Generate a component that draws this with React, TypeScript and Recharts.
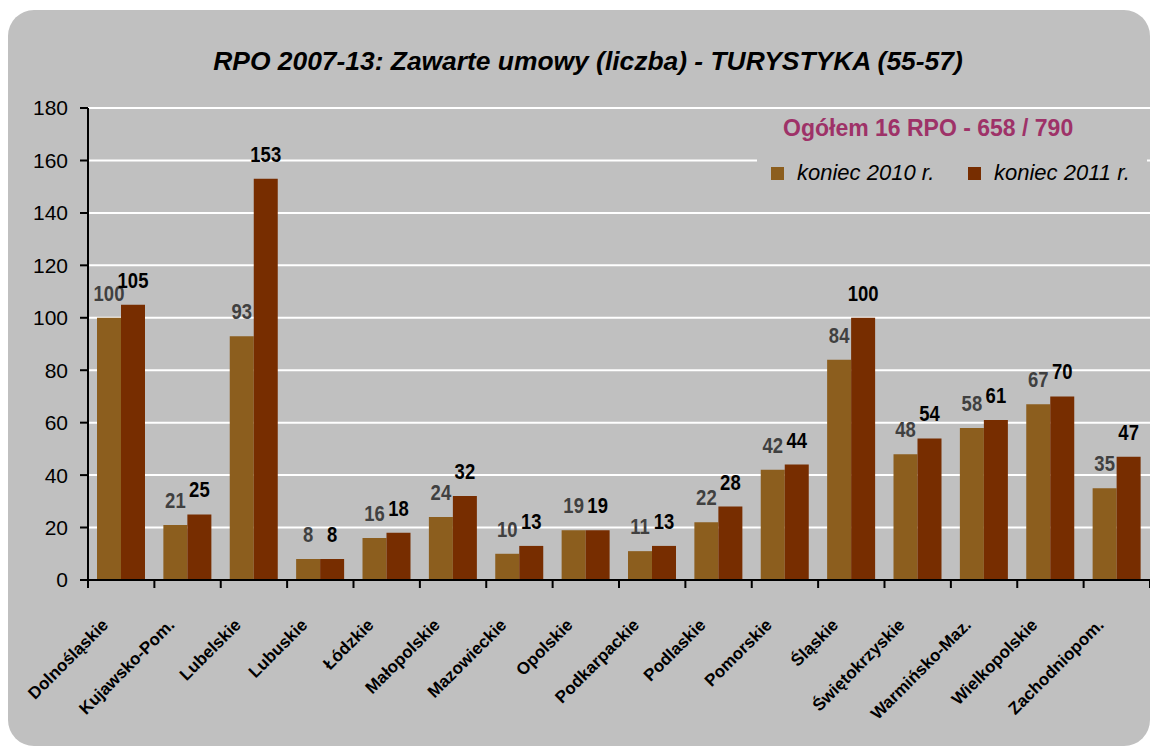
import { BarChart, Bar, XAxis, YAxis, CartesianGrid, LabelList, Legend } from "recharts";

const regions = [
  "Dolnośląskie",
  "Kujawsko-Pom.",
  "Lubelskie",
  "Lubuskie",
  "Łódzkie",
  "Małopolskie",
  "Mazowieckie",
  "Opolskie",
  "Podkarpackie",
  "Podlaskie",
  "Pomorskie",
  "Śląskie",
  "Świętokrzyskie",
  "Warmińsko-Maz.",
  "Wielkopolskie",
  "Zachodniopom.",
];
const end2010 = [100, 21, 93, 8, 16, 24, 10, 19, 11, 22, 42, 84, 48, 58, 67, 35];
const end2011 = [105, 25, 153, 8, 18, 32, 13, 19, 13, 28, 44, 100, 54, 61, 70, 47];
const yTicks = [0, 20, 40, 60, 80, 100, 120, 140, 160, 180];

const title = "RPO 2007-13: Zawarte umowy (liczba) - TURYSTYKA (55-57)";
const totalNote = "Ogółem 16 RPO - 658 / 790";

const data = regions.map((name, i) => ({ name, a: end2010[i], b: end2011[i] }));

const W = 1142;
const H = 736;
const PLOT_LEFT = 80;
const band = (W - PLOT_LEFT) / regions.length;
const FONT = "'Liberation Sans', Arial, sans-serif";

const RegionTick = (props: any) => {
  const { x, y, payload, index } = props;
  return (
    <g>
      <line x1={x - band / 2} x2={x - band / 2} y1={y} y2={y + 8} stroke="#000" strokeWidth={2} />
      {index === regions.length - 1 && (
        <line x1={x + band / 2} x2={x + band / 2} y1={y} y2={y + 8} stroke="#000" strokeWidth={2} />
      )}
      <text
        transform={`translate(${x - 12},${y + 46}) rotate(-45)`}
        textAnchor="end"
        fontFamily={FONT}
        fontWeight="bold"
        fontSize={17}
        fill="#000"
      >
        {payload.value}
      </text>
    </g>
  );
};

// narrow bold value labels above the bars
const makeValueLabel = (color: string) => (props: any) => {
  const { x, y, width, value } = props;
  return (
    <text
      transform={`translate(${x + width / 2},${y - 17}) scale(0.84,1)`}
      textAnchor="middle"
      fontFamily={FONT}
      fontWeight="bold"
      fontSize={22}
      fill={color}
    >
      {value}
    </text>
  );
};

const LegendBox = (props: any) => {
  const items = props.payload || [];
  return (
    <div style={{ position: "relative", width: 390, height: 90, background: "#C0C0C0", fontFamily: FONT }}>
      <div
        style={{
          position: "absolute",
          left: 26,
          top: 2,
          fontSize: 23,
          lineHeight: "23px",
          fontWeight: "bold",
          color: "#9E3268",
          whiteSpace: "nowrap",
        }}
      >
        {totalNote}
      </div>
      {items.map((it: any, i: number) => (
        <div key={i}>
          <div
            style={{
              position: "absolute",
              left: 14 + i * 197,
              top: 52,
              width: 13,
              height: 13,
              background: it.color,
            }}
          />
          <div
            style={{
              position: "absolute",
              left: 40 + i * 197,
              top: 47,
              fontSize: 22,
              lineHeight: "22px",
              fontStyle: "italic",
              color: "#000",
              whiteSpace: "nowrap",
            }}
          >
            {it.value}
          </div>
        </div>
      ))}
    </div>
  );
};

export default function App() {
  return (
    <div
      style={{
        position: "absolute",
        left: 8,
        top: 10,
        width: W,
        height: H,
        background: "#C0C0C0",
        borderRadius: 26,
        overflow: "hidden",
      }}
    >
      <div
        style={{
          position: "absolute",
          left: 9,
          top: 38,
          width: W,
          textAlign: "center",
          fontFamily: FONT,
          fontSize: 26.4,
          lineHeight: "26px",
          fontWeight: "bold",
          fontStyle: "italic",
          color: "#000",
        }}
      >
        {title}
      </div>
      <BarChart
        width={W}
        height={H}
        data={data}
        margin={{ top: 98, right: 0, left: 20, bottom: 6 }}
        barCategoryGap={9}
        barGap={0}
        style={{ fontFamily: FONT }}
      >
        <CartesianGrid vertical={false} stroke="#FFFFFF" strokeWidth={2} />
        <XAxis
          dataKey="name"
          interval={0}
          height={160}
          tickSize={0}
          tickMargin={0}
          tickLine={false}
          axisLine={{ stroke: "#000", strokeWidth: 2 }}
          tick={<RegionTick />}
        />
        <YAxis
          width={60}
          domain={[0, 180]}
          ticks={yTicks}
          interval={0}
          tickSize={8}
          tickMargin={12}
          axisLine={{ stroke: "#000", strokeWidth: 2 }}
          tickLine={{ stroke: "#000", strokeWidth: 2 }}
          tick={{ fill: "#000", fontSize: 21, fontFamily: FONT }}
        />
        <Legend
          layout="horizontal"
          verticalAlign="middle"
          align="center"
          wrapperStyle={{ left: 749, top: 105, width: 390, height: 90 }}
          content={<LegendBox />}
        />
        <Bar dataKey="a" name="koniec 2010 r." fill="#8C5E1E" isAnimationActive={false}>
          <LabelList dataKey="a" content={makeValueLabel("#404040")} />
        </Bar>
        <Bar dataKey="b" name="koniec 2011 r." fill="#772D00" isAnimationActive={false}>
          <LabelList dataKey="b" content={makeValueLabel("#000")} />
        </Bar>
      </BarChart>
    </div>
  );
}
